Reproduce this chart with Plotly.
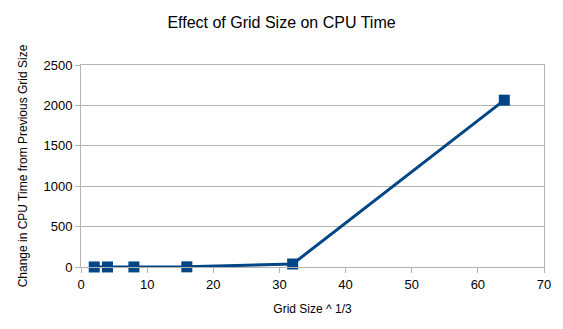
import plotly.graph_objects as go

# Grid size (cube root) and the change in CPU time versus the previous grid
grid_size_cbrt = [2, 4, 8, 16, 32, 64]
cpu_time_change = [0.2, 0.5, 1.0, 2.0, 37, 2065]

x_ticks = [0, 10, 20, 30, 40, 50, 60, 70]
y_ticks = [0, 500, 1000, 1500, 2000, 2500]

line_color = "#004586"
grid_color = "#b3b3b3"
font_family = "Liberation Sans, Arial, sans-serif"

fig = go.Figure()
fig.add_trace(go.Scatter(
    x=grid_size_cbrt,
    y=cpu_time_change,
    mode="lines+markers",
    line=dict(color=line_color, width=3),
    marker=dict(symbol="square", size=11, color=line_color),
    showlegend=False,
    cliponaxis=False,
))

fig.update_layout(
    width=563,
    height=329,
    paper_bgcolor="white",
    plot_bgcolor="white",
    margin=dict(l=81, r=15, t=65, b=62),
    font=dict(family=font_family, size=12, color="#000000"),
    title=dict(
        text="Effect of Grid Size on CPU Time",
        x=0.5, xanchor="center",
        y=0.933, yanchor="middle",
        font=dict(size=16, family=font_family, color="#000000"),
    ),
)

fig.update_xaxes(
    range=[0, 70],
    tickvals=x_ticks,
    ticks="outside", ticklen=5, tickcolor=grid_color,
    showline=True, linecolor=grid_color, linewidth=1, mirror=True,
    showgrid=False, zeroline=False,
    tickfont=dict(size=13, family=font_family),
    title=dict(text="Grid Size ^ 1/3", font=dict(size=12, family=font_family), standoff=14),
)
fig.update_yaxes(
    range=[0, 2500],
    tickvals=y_ticks,
    ticks="outside", ticklen=5, tickcolor=grid_color,
    showline=True, linecolor=grid_color, linewidth=1, mirror=True,
    showgrid=True, gridcolor=grid_color, gridwidth=1,
    zeroline=False,
    tickfont=dict(size=13, family=font_family),
    title=dict(text="Change in CPU Time from Previous Grid Size",
               font=dict(size=12, family=font_family), standoff=13),
)

fig.write_html("out.html")
